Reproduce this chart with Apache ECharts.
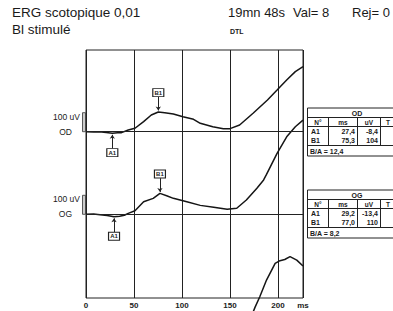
<!DOCTYPE html>
<html>
<head>
<meta charset="utf-8">
<script src="https://cdn.jsdelivr.net/npm/echarts@6/dist/echarts.min.js"></script>
<style>
html, body { margin: 0; padding: 0; background: #fff; }
#chart { width: 393px; height: 311px; }
</style>
</head>
<body>
<div id="chart"></div>
<script>
// 시간 (ms) / 진폭 (uV) - 그림에서 읽은 값
var odTimes  = [0, 8, 14, 21, 27.4, 33, 37, 44, 51, 60, 68, 75.3, 82, 91, 101, 112, 119, 132, 143, 150, 160, 174, 189, 199, 209, 218, 226];
var odValues = [0, -2, 0, -4, -8.4, -6, -5, 9, 18, 53, 88, 104, 100, 93, 79, 65, 44, 26, 16, 16, 35, 97, 167, 219, 272, 316, 342];

var ogTimes  = [0, 8, 14.6, 22, 29.2, 35, 40, 44, 51, 60, 70, 77, 84, 91, 105, 119, 133, 147, 157, 167, 178, 185, 188, 199, 209, 218, 226];
var ogValues = [0, 1, -2, -6, -13.4, -10, -5, 5, 19, 66, 84, 110, 98, 84, 66, 47, 37, 26, 32, 75, 137, 181, 210, 321, 408, 461, 496];

// 아래쪽에 잘린 세번째 곡선 (OG 축 기준)
var lowTimes  = [172, 176, 181, 188, 197, 202, 207, 212.5, 219.5, 226];
var lowValues = [-540, -490, -434, -346, -258, -244, -238, -223, -241, -272];

// 표 데이터
var peakNames = ['A1', 'B1'];
var odPeakMs = [27.4, 75.3];
var odPeakUv = [-8.4, 104];
var odRatio = '12,4';
var ogPeakMs = [29.2, 77.0];
var ogPeakUv = [-13.4, 110];
var ogRatio = '8,2';

var xTicks = [0, 50, 100, 150, 200];
var calUv = 100;

var chart = echarts.init(document.getElementById('chart'), null, { renderer: 'svg' });

// 축 범위 (px 기준: 그리드 높이 248, 0.19 px/uV)
var gridTop = 50, gridH = 248, pxPerUv = 0.19;
var odBasePx = 131.7, ogBasePx = 214.3;
var odMax = (odBasePx - gridTop) / pxPerUv;
var ogMax = (ogBasePx - gridTop) / pxPerUv;
var span = gridH / pxPerUv;

function pairs(xs, ys) {
	var out = [];
	for (var i = 0; i < xs.length; i++) out.push([xs[i], ys[i]]);
	return out;
}

function peakMarks(msList, uvList) {
	var points = [];
	var lines = [{ yAxis: 0, symbol: 'none' }];
	for (var i = 0; i < msList.length; i++) {
		var dir = uvList[i] < 0 ? -1 : 1;
		points.push({ name: peakNames[i], coord: [msList[i], uvList[i] + dir * 102] });
		lines.push([
			{ coord: [msList[i], uvList[i] + dir * 80], symbol: 'none' },
			{ coord: [msList[i], uvList[i] + dir * 8], symbol: 'arrow', symbolSize: 4 }
		]);
	}
	return { points: points, lines: lines };
}

var odMarks = peakMarks(odPeakMs, odPeakUv);
var ogMarks = peakMarks(ogPeakMs, ogPeakUv);

function traceSeries(name, data, axis, marks) {
	var s = {
		name: name,
		type: 'line',
		yAxisIndex: axis,
		data: data,
		symbol: 'none',
		clip: false,
		silent: true,
		lineStyle: { color: '#151515', width: 1.5 }
	};
	if (marks) {
		s.markLine = {
			silent: true,
			symbol: 'none',
			label: { show: false },
			lineStyle: { color: '#222', width: 1, type: 'solid' },
			data: marks.lines
		};
		s.markPoint = {
			silent: true,
			symbol: 'rect',
			symbolSize: [11, 8],
			itemStyle: { color: '#fff', borderColor: '#222', borderWidth: 1 },
			label: { show: true, position: 'inside', formatter: '{b}', fontSize: 6, fontWeight: 'bold', color: '#222', fontFamily: 'Liberation Sans' },
			data: marks.points
		};
	}
	return s;
}

var option = {
	animation: false,
	backgroundColor: '#fff',
	textStyle: { fontFamily: 'Liberation Sans, Arial, sans-serif' },
	grid: {
		left: 86, top: gridTop, width: 217, height: gridH,
		show: true, borderColor: '#222', borderWidth: 1
	},
	xAxis: {
		type: 'value', min: 0, max: 226, interval: 50,
		axisLine: { show: false },
		axisTick: { show: false },
		axisLabel: {
			fontSize: 8, fontWeight: 'bold', color: '#222', margin: 3,
			formatter: function (v) { return xTicks.indexOf(v) >= 0 ? String(v) : 'ms'; }
		},
		splitLine: { show: true, lineStyle: { color: '#222', width: 1 } }
	},
	yAxis: [
		{ type: 'value', show: false, min: odMax - span, max: odMax },
		{ type: 'value', show: false, min: ogMax - span, max: ogMax }
	],
	series: [
		traceSeries('OD', pairs(odTimes, odValues), 0, odMarks),
		traceSeries('OG', pairs(ogTimes, ogValues), 1, ogMarks),
		traceSeries('low', pairs(lowTimes, lowValues), 1, null)
	]
};
chart.setOption(option);

// 보조 그래픽 (제목, 보정 막대, 표)
var F = 'Liberation Sans, Arial, sans-serif';
function txt(x, y, s, size, bold, align) {
	return {
		type: 'text', x: x, y: y, silent: true,
		style: { text: s, font: (bold ? 'bold ' : '') + size + 'px ' + F, fill: '#1a1a1a', textAlign: align || 'left', textVerticalAlign: 'middle' }
	};
}
function ln(x1, y1, x2, y2) {
	return { type: 'line', silent: true, shape: { x1: x1, y1: y1, x2: x2, y2: y2 }, style: { stroke: '#222', lineWidth: 1 } };
}
function fmtUv(v) { return Math.abs(v) >= 100 ? String(Math.round(v)) : v.toFixed(1).replace('.', ','); }
function fmtMs(v) { return v.toFixed(1).replace('.', ','); }

function table(top, title, msList, uvList, ratio) {
	var cols = [307.5, 328.5, 357.5, 380.5, 412];
	var rows = [0, 9.5, 18.5, 37.5, 48];
	var out = [];
	out.push({ type: 'rect', silent: true, shape: { x: cols[0], y: top, width: cols[4] - cols[0], height: rows[4] }, style: { fill: '#fff', stroke: '#222', lineWidth: 1 } });
	out.push(ln(cols[0], top + rows[1], cols[4], top + rows[1]));
	out.push(ln(cols[0], top + rows[2], cols[4], top + rows[2]));
	out.push(ln(cols[0], top + rows[3], cols[4], top + rows[3]));
	for (var c = 1; c < 4; c++) out.push(ln(cols[c], top + rows[1], cols[c], top + rows[3]));
	out.push(txt(357, top + 5, title, 7, true, 'center'));
	out.push(txt(318, top + 14, 'N°', 6.5, true, 'center'));
	out.push(txt(343, top + 14, 'ms', 6.5, true, 'center'));
	out.push(txt(369, top + 14, 'uV', 6.5, true, 'center'));
	out.push(txt(386, top + 14, 'T', 6.5, true, 'left'));
	for (var i = 0; i < msList.length; i++) {
		var y = top + 23 + i * 9;
		out.push(txt(311, y, peakNames[i], 7, true, 'left'));
		out.push(txt(355, y, fmtMs(msList[i]), 7, true, 'right'));
		out.push(txt(378, y, fmtUv(uvList[i]), 7, true, 'right'));
	}
	out.push(txt(310, top + 43, 'B/A = ' + ratio, 7, true, 'left'));
	return out;
}

function calibration(axis, label) {
	var base = chart.convertToPixel({ yAxisIndex: axis }, 0);
	var topPx = chart.convertToPixel({ yAxisIndex: axis }, calUv);
	var x = chart.convertToPixel({ xAxisIndex: 0 }, 0);
	return [
		{ type: 'rect', silent: true, shape: { x: x - 3.5, y: topPx, width: 3, height: base - topPx }, style: { fill: '#ccc', stroke: '#333', lineWidth: 0.8 } },
		txt(x - 6, topPx + 4, calUv + ' uV', 8.5, false, 'right'),
		txt(x - 14, base, label, 8.5, false, 'right')
	];
}

var elements = [
	txt(12, 12, 'ERG scotopique 0,01', 13.5, false, 'left'),
	txt(12, 29, 'Bl stimulé', 13.5, false, 'left'),
	txt(228, 12, '19mn 48s', 13, false, 'left'),
	txt(293, 12, 'Val= 8', 13, false, 'left'),
	txt(352, 12, 'Rej= 0', 13, false, 'left'),
	txt(230, 31, 'DTL', 7, true, 'left')
];
elements = elements.concat(calibration(0, 'OD'), calibration(1, 'OG'));
elements = elements.concat(table(108, 'OD', odPeakMs, odPeakUv, odRatio));
elements = elements.concat(table(190, 'OG', ogPeakMs, ogPeakUv, ogRatio));

chart.setOption({ graphic: { elements: elements } });
</script>
</body>
</html>
